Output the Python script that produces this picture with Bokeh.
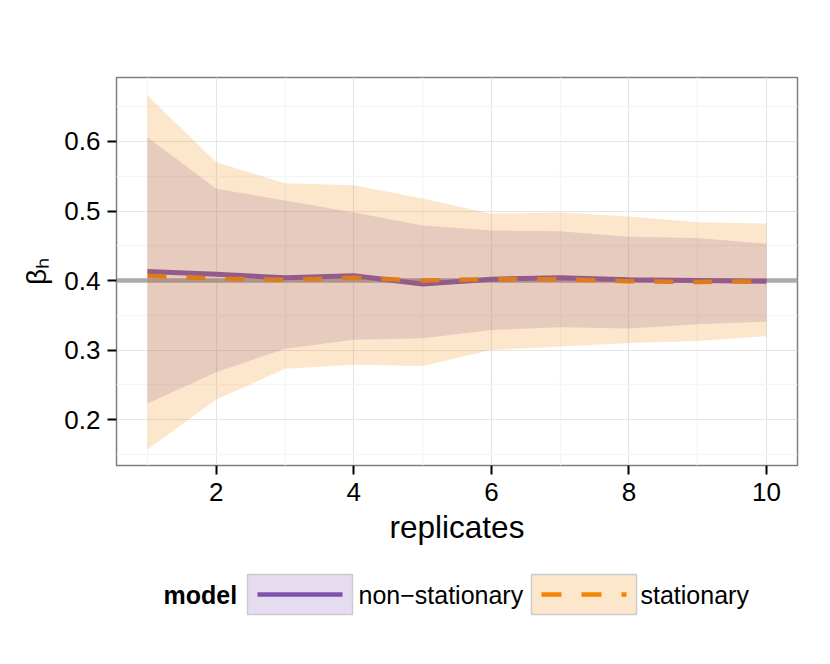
from bokeh.plotting import figure
from bokeh.layouts import column
from bokeh.models import Range1d, FixedTicker, Span
from bokeh.core.properties import value
from bokeh.embed import file_html
from bokeh.resources import INLINE

# ---- data ----
replicates = [1, 2, 3, 4, 5, 6, 7, 8, 9, 10]
ns_mean = [0.413, 0.409, 0.404, 0.407, 0.395, 0.402, 0.404, 0.401, 0.400, 0.399]
ns_lo = [0.223, 0.268, 0.302, 0.315, 0.317, 0.329, 0.333, 0.331, 0.337, 0.341]
ns_hi = [0.606, 0.532, 0.515, 0.498, 0.479, 0.472, 0.471, 0.463, 0.461, 0.453]
st_mean = [0.407, 0.403, 0.401, 0.404, 0.400, 0.402, 0.402, 0.399, 0.398, 0.399]
st_lo = [0.157, 0.229, 0.273, 0.279, 0.277, 0.300, 0.305, 0.310, 0.313, 0.320]
st_hi = [0.666, 0.570, 0.540, 0.537, 0.518, 0.496, 0.498, 0.492, 0.484, 0.482]
true_value = 0.4
x_ticks = [2, 4, 6, 8, 10]
x_minor = [1, 3, 5, 7, 9]
y_ticks = [0.2, 0.3, 0.4, 0.5, 0.6]
y_minor = [0.15, 0.25, 0.35, 0.45, 0.55, 0.65]
models = ["non\u2212stationary", "stationary"]
legend_title = "model"

PURPLE = "#7B52AE"
ORANGE = "#F28500"
FONT = "Liberation Sans"

FL, FW, FR = 116, 681, 17

p = figure(frame_width=FW, frame_height=388,
           min_border_left=FL, min_border_right=FR,
           min_border_top=77, min_border_bottom=95,
           x_range=Range1d(0.55, 10.45), y_range=Range1d(0.134, 0.692),
           output_backend="svg", toolbar_location=None,
           background_fill_color="white", border_fill_color="white")

p.outline_line_color = "#7F7F7F"
p.outline_line_width = 1.5

p.xaxis.ticker = FixedTicker(ticks=x_ticks, minor_ticks=x_minor)
p.yaxis.ticker = FixedTicker(ticks=y_ticks, minor_ticks=y_minor)
for g in (p.xgrid, p.ygrid):
    g.grid_line_color = "#E5E5E5"
    g.grid_line_width = 1.2
    g.minor_grid_line_color = "#F5F5F5"
    g.minor_grid_line_width = 1.5

for ax in (p.xaxis, p.yaxis):
    ax.axis_line_color = None
    ax.major_tick_line_color = "black"
    ax.major_tick_line_width = 2
    ax.major_tick_out = 9
    ax.major_tick_in = 0
    ax.minor_tick_out = 0
    ax.minor_tick_in = 0
    ax.major_label_text_font = FONT
    ax.major_label_text_font_size = "26px"
    ax.major_label_text_color = "black"
    ax.axis_label_text_font = FONT
    ax.axis_label_text_font_style = "normal"
    ax.axis_label_text_color = "black"
p.xaxis.major_label_standoff = 8
p.yaxis.major_label_standoff = 7

p.xaxis.axis_label = "replicates"
p.xaxis.axis_label_text_font_size = "31.5px"
p.xaxis.axis_label_standoff = 5

p.yaxis.axis_label = "\u03b2\u2095"
p.yaxis.axis_label_text_font_size = "28px"
p.yaxis.axis_label_standoff = 9

# reference line
p.add_layout(Span(location=true_value, dimension="width",
                  line_color="#AAAAAA", line_width=4.5, level="underlay"))

# mean lines (beneath ribbons)
p.line(replicates, ns_mean, line_color=PURPLE, line_width=5)
p.line(replicates, st_mean, line_color=ORANGE, line_width=4.5,
       line_dash="19 20")

# ribbons
p.varea(x=replicates, y1=ns_lo, y2=ns_hi, fill_color=PURPLE, fill_alpha=0.2)
p.varea(x=replicates, y1=st_lo, y2=st_hi, fill_color=ORANGE, fill_alpha=0.2)

# ---- legend strip (data coords = canvas pixels) ----
LH = 88
q = figure(frame_width=FW, frame_height=LH,
           min_border_left=FL, min_border_right=FR,
           min_border_top=0, min_border_bottom=0,
           x_range=Range1d(FL, FL + FW), y_range=Range1d(0, LH),
           x_axis_type=None, y_axis_type=None,
           output_backend="svg", toolbar_location=None,
           background_fill_color="white", border_fill_color="white")
q.grid.visible = False
q.outline_line_color = None

# legend layout (pixels)
key_left = [247, 531]
key_w, key_top, key_bot, key_mid = 105, 74, 34, 54
key_inset = 10
label_x = [358, 640]
key_colors = [PURPLE, ORANGE]
key_dash = ["solid", "20 20"]

q.text(x=[163], y=[key_mid], text=[legend_title], text_font=value(FONT),
       text_font_size="25px", text_font_style="bold", text_color="black",
       text_baseline="middle", text_align="left")
for i, name in enumerate(models):
    x0 = key_left[i]
    q.quad(left=[x0], right=[x0 + key_w], top=[key_top], bottom=[key_bot],
           fill_color=key_colors[i], fill_alpha=0.2,
           line_color="#CCCCCC", line_width=1.5)
    q.line([x0 + key_inset, x0 + key_w - key_inset], [key_mid, key_mid],
           line_color=key_colors[i], line_width=4.7, line_dash=key_dash[i])
    q.text(x=[label_x[i]], y=[key_mid], text=[name], text_font=value(FONT),
           text_font_size="25px", text_color="black",
           text_baseline="middle", text_align="left")

open("out.html", "w").write(file_html(column(p, q, spacing=0), INLINE))
